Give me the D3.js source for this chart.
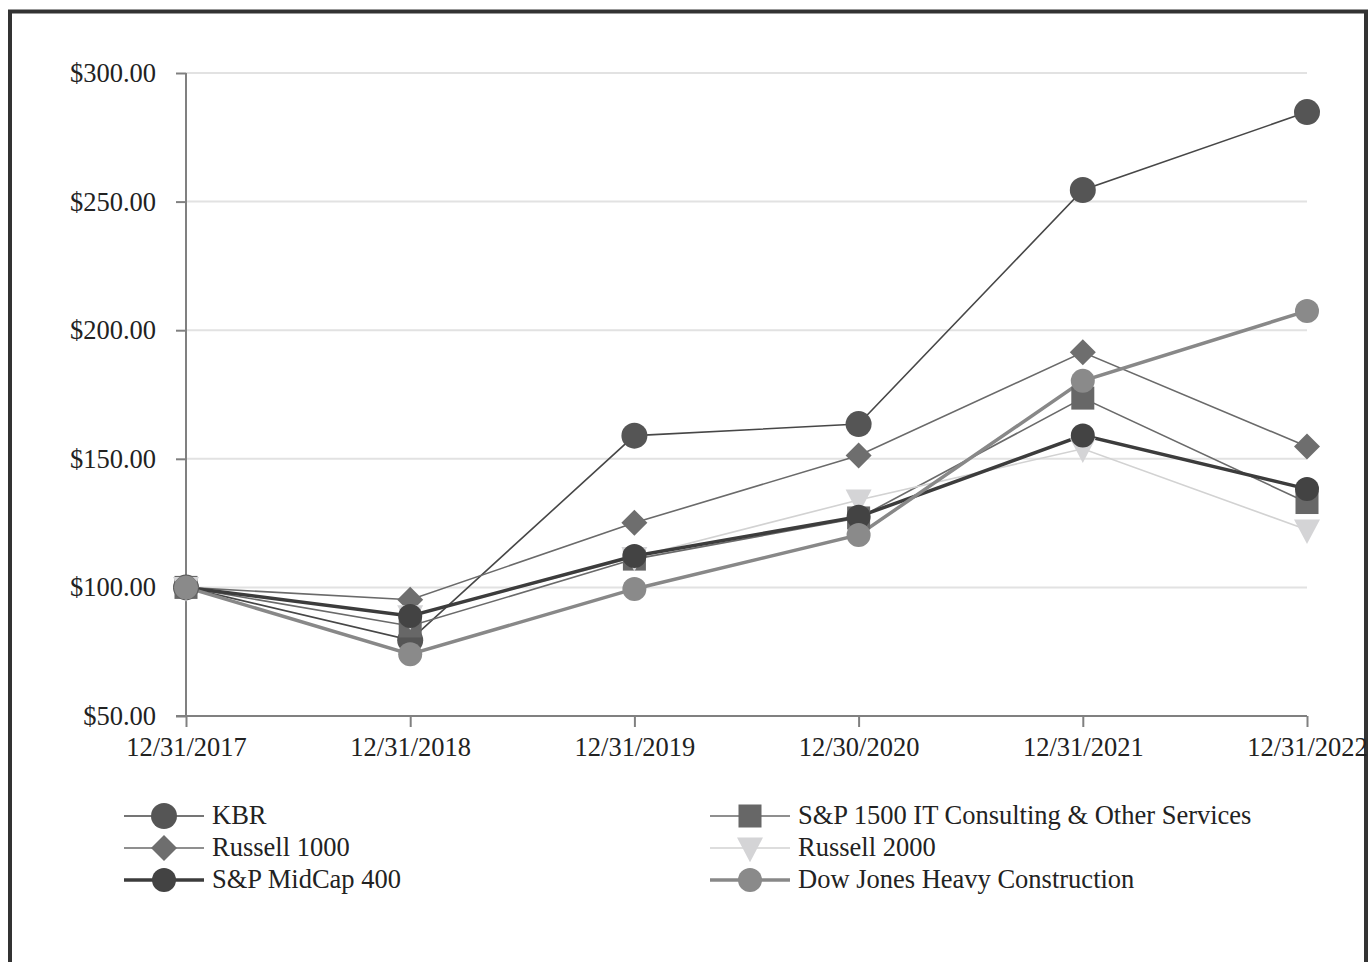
<!DOCTYPE html>
<html>
<head>
<meta charset="utf-8">
<script src="https://cdn.jsdelivr.net/npm/d3@7"></script>
<style>
  body { margin: 0; background: #fff; }
  svg { display: block; font-family: "Liberation Serif", "Times New Roman", serif; }
</style>
</head>
<body>
<svg id="chart"></svg>
<script>
const dates = ["12/31/2017", "12/31/2018", "12/31/2019", "12/30/2020", "12/31/2021", "12/31/2022"];
const yTicks = [50, 100, 150, 200, 250, 300];

const kbr = [100, 79.5, 159, 163.5, 254.5, 284.8];
const itConsulting = [100, 85, 111, 127, 173.6, 133];
const russell1000 = [100, 95.2, 125.1, 151.3, 191.4, 154.8];
const russell2000 = [100, 89, 111.7, 134, 153.9, 122.4];
const midCap400 = [100, 88.9, 112.2, 127.5, 159.1, 138.3];
const dowJonesHeavy = [100, 74, 99.4, 120.4, 180.3, 207.5];

const series = [
  { name: "KBR", values: kbr, line: "#474747", lw: 1.6, shape: "circle", fill: "#555555", size: 13 },
  { name: "S&P 1500 IT Consulting & Other Services", values: itConsulting, line: "#6a6a6a", lw: 1.6, shape: "square", fill: "#676767", size: 11.5 },
  { name: "Russell 1000", values: russell1000, line: "#6a6a6a", lw: 1.6, shape: "diamond", fill: "#6e6e6e", size: 13 },
  { name: "Russell 2000", values: russell2000, line: "#d2d2d2", lw: 1.6, shape: "triangle", fill: "#d4d4d6", size: 13 },
  { name: "S&P MidCap 400", values: midCap400, line: "#3c3c3c", lw: 3.5, shape: "circle", fill: "#434343", size: 12 },
  { name: "Dow Jones Heavy Construction", values: dowJonesHeavy, line: "#888888", lw: 3.5, shape: "circle", fill: "#8a8a8a", size: 12 }
];

const fontSize = 26.5;
const width = 1369, height = 962;
const svg = d3.select("#chart").attr("width", width).attr("height", height);

// frame
svg.append("rect")
  .attr("x", 10).attr("y", 11.5)
  .attr("width", 1356).attr("height", 970)
  .attr("fill", "none").attr("stroke", "#333").attr("stroke-width", 4);

const x = d3.scalePoint().domain(dates).range([186, 1307]);
const y = d3.scaleLinear().domain([50, 300]).range([716, 73]);

// gridlines
svg.append("g")
  .selectAll("line")
  .data(yTicks.slice(1))
  .join("line")
  .attr("x1", 186).attr("x2", 1307)
  .attr("y1", d => y(d)).attr("y2", d => y(d))
  .attr("stroke", "#e2e2e2").attr("stroke-width", 2);

const yAxis = svg.append("g")
  .attr("transform", "translate(186,0)")
  .call(d3.axisLeft(y).tickValues(yTicks).tickSize(10).tickPadding(20).tickFormat(d => "$" + d3.format(".2f")(d)));

const xAxis = svg.append("g")
  .attr("transform", `translate(0,${y(50)})`)
  .call(d3.axisBottom(x).tickSize(11).tickPadding(10));

[yAxis, xAxis].forEach(g => {
  g.select(".domain").attr("stroke", "#808080").attr("stroke-width", 2);
  g.selectAll(".tick line").attr("stroke", "#808080").attr("stroke-width", 2);
  g.selectAll("text").attr("font-family", "Liberation Serif, serif").attr("font-size", fontSize).attr("fill", "#222");
});
yAxis.select(".domain").attr("d", `M0,${y(50)}V${y(300)}`);
xAxis.select(".domain").attr("d", `M${x(dates[0]) - 10},0H${x(dates[5])}`);

function drawMarker(g, s, cx, cy) {
  const r = s.size;
  if (s.shape === "circle") {
    g.append("circle").attr("cx", cx).attr("cy", cy).attr("r", r).attr("fill", s.fill);
  } else if (s.shape === "square") {
    g.append("rect").attr("x", cx - r).attr("y", cy - r).attr("width", 2 * r).attr("height", 2 * r).attr("fill", s.fill);
  } else if (s.shape === "diamond") {
    g.append("path").attr("d", `M${cx},${cy - r}L${cx + r},${cy}L${cx},${cy + r}L${cx - r},${cy}Z`).attr("fill", s.fill);
  } else if (s.shape === "triangle") {
    g.append("path").attr("d", `M${cx - r},${cy - r * 0.8}L${cx + r},${cy - r * 0.8}L${cx},${cy + r * 1.1}Z`).attr("fill", s.fill);
  }
}

const line = d3.line().x((d, i) => x(dates[i])).y(d => y(d));

const lines = svg.append("g");
series.forEach(s => {
  lines.append("path")
    .attr("d", line(s.values))
    .attr("fill", "none")
    .attr("stroke", s.line)
    .attr("stroke-width", s.lw);
});

const markers = svg.append("g");
series.forEach(s => {
  s.values.forEach((v, i) => drawMarker(markers, s, x(dates[i]), y(v)));
});

// legend
const legendPos = [
  [124, 816], [710, 816],
  [124, 848], [710, 848],
  [124, 880], [710, 880]
];
const legend = svg.append("g");
series.forEach((s, i) => {
  const [lx, ly] = legendPos[i];
  legend.append("line")
    .attr("x1", lx).attr("x2", lx + 80)
    .attr("y1", ly).attr("y2", ly)
    .attr("stroke", s.line).attr("stroke-width", s.lw);
  drawMarker(legend, s, lx + 40, ly);
  legend.append("text")
    .attr("x", lx + 88).attr("y", ly + 8)
    .attr("font-size", fontSize).attr("fill", "#222")
    .text(s.name);
});
</script>
</body>
</html>
